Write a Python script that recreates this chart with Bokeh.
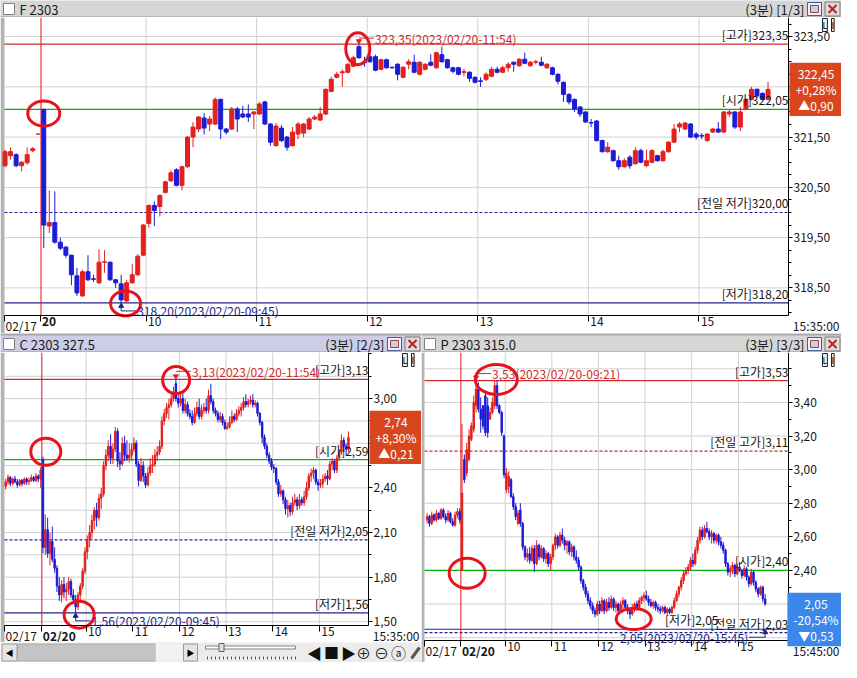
from bokeh.plotting import figure
from bokeh.models import Range1d, FixedTicker, ColumnDataSource, Label, PolyAnnotation
from bokeh.layouts import column, row
from bokeh.embed import file_html
from bokeh.resources import INLINE

FONT = "Noto Sans CJK KR"
UP, DOWN = "#e3201e", "#1c1cd6"
HI_RED, GREEN, NAVY = "#d22a2a", "#00b400", "#23238c"
GRID, MARK = "#d0d0d0", "#e8121c"
BOX_UP, BOX_DN = "#d9461e", "#3c88ea"

# ---- time axis (bar index of 3-minute bars on 02/20; negative = 02/17) ----
HOUR_POS = [18.5, 38.5, 58.5, 78.5, 98.5, 118.5]
HOUR_LABELS = ["10", "11", "12", "13", "14", "15"]

# ================= F 2303 =================
F_N_PREV = 7
F_OPEN = [320.93, 321.13, 321.15, 320.93, 320.99, 321.23, 321.56,
          322.05, 319.73, 319.80, 319.41, 319.31, 319.15, 318.74, 318.34, 318.82, 318.68,
          318.60, 319.01, 319.01, 318.66, 318.58, 318.24, 318.60, 318.76, 319.15, 319.78,
          320.14, 320.12, 320.40, 320.63, 320.85, 320.54, 320.91, 321.50, 321.66, 321.88,
          321.76, 321.76, 322.25, 321.66, 321.66, 322.06, 321.96, 321.96, 321.96, 321.96,
          322.20, 321.76, 321.33, 321.68, 321.50, 321.33, 321.56, 321.58, 321.66, 321.86,
          321.84, 321.96, 322.41, 322.69, 322.78, 322.79, 322.91, 323.30, 323.00, 323.10,
          323.10, 322.85, 323.04, 322.89, 322.95, 322.69, 322.95, 322.99, 322.75, 322.85,
          322.99, 322.88, 323.14, 323.04, 322.88, 322.88, 322.79, 322.79, 322.69, 322.62,
          322.65, 322.71, 322.85, 322.79, 322.88, 322.99, 322.92, 323.05, 322.92, 322.99,
          322.99, 322.88, 322.88, 322.75, 322.59, 322.35, 322.25, 322.10, 322.00, 321.79,
          321.82, 321.43, 321.21, 321.23, 321.03, 320.91, 321.10, 320.97, 321.23, 320.93,
          321.00, 321.13, 321.03, 321.21, 321.40, 321.70, 321.66, 321.76, 321.56, 321.53,
          321.43, 321.60, 321.66, 321.60, 321.96, 322.00, 321.70, 322.06, 322.25, 322.45,
          322.37, 322.25]
F_HIGH = [321.25, 321.30, 321.18, 321.02, 321.30, 321.30, 321.56,
          322.07, 320.44, 320.42, 319.50, 319.33, 319.16, 318.90, 318.86, 319.15, 318.76,
          319.27, 319.25, 319.02, 318.68, 318.76, 318.66, 318.98, 319.17, 319.77, 320.16,
          320.22, 320.36, 320.63, 320.84, 320.88, 320.93, 321.52, 321.80, 321.92, 321.98,
          321.92, 322.29, 322.27, 321.68, 322.10, 322.10, 322.12, 322.15, 322.02, 322.20,
          322.22, 321.78, 321.78, 321.74, 321.52, 321.70, 321.80, 321.78, 321.90, 321.94,
          322.10, 322.47, 322.70, 322.80, 322.85, 322.97, 323.12, 323.35, 323.10, 323.14,
          323.14, 323.06, 323.06, 322.90, 322.97, 322.91, 323.05, 323.14, 323.01, 322.97,
          323.15, 323.20, 323.30, 323.06, 322.90, 322.90, 322.86, 322.81, 322.71, 322.69,
          322.79, 322.90, 322.90, 322.92, 322.99, 323.00, 323.07, 323.18, 323.01, 323.04,
          323.10, 322.97, 322.90, 322.77, 322.61, 322.37, 322.27, 322.12, 322.02, 321.86,
          321.84, 321.45, 321.40, 321.25, 321.13, 321.08, 321.14, 321.30, 321.27, 321.25,
          321.26, 321.15, 321.25, 321.42, 321.76, 321.80, 321.80, 321.78, 321.60, 321.58,
          321.58, 321.68, 321.80, 322.02, 322.04, 322.02, 322.10, 322.27, 322.50, 322.47,
          322.39, 322.60]
F_LOW = [320.90, 321.05, 320.90, 320.82, 320.95, 321.20, 321.56,
         319.29, 319.59, 319.38, 319.25, 319.10, 318.55, 318.34, 318.32, 318.64, 318.62,
         318.58, 318.80, 318.64, 318.50, 318.20, 318.20, 318.58, 318.74, 319.13, 319.70,
         319.73, 319.92, 320.38, 320.61, 320.52, 320.44, 320.89, 321.30, 321.60, 321.55,
         321.62, 321.74, 321.46, 321.55, 321.64, 321.60, 321.88, 321.80, 321.66, 321.94,
         321.74, 321.33, 321.31, 321.40, 321.23, 321.31, 321.46, 321.50, 321.64, 321.84,
         321.82, 321.94, 322.39, 322.67, 322.50, 322.77, 322.89, 323.06, 322.90, 322.98,
         322.81, 322.83, 322.86, 322.86, 322.63, 322.67, 322.85, 322.77, 322.73, 322.83,
         322.91, 322.86, 322.98, 322.86, 322.77, 322.73, 322.71, 322.60, 322.57, 322.50,
         322.61, 322.69, 322.77, 322.77, 322.80, 322.80, 322.90, 322.95, 322.90, 322.95,
         322.91, 322.86, 322.73, 322.55, 322.20, 322.15, 322.00, 321.90, 321.78, 321.70,
         321.41, 321.19, 321.19, 321.01, 320.85, 320.89, 320.87, 320.95, 320.98, 320.91,
         320.98, 321.01, 321.01, 321.19, 321.38, 321.60, 321.64, 321.48, 321.45, 321.46,
         321.41, 321.58, 321.58, 321.58, 321.90, 321.66, 321.62, 322.04, 322.23, 322.30,
         322.23, 322.23]
F_CLOSE = [321.21, 321.21, 320.93, 321.00, 321.15, 321.27, 321.56,
           319.75, 319.80, 319.41, 319.29, 319.15, 318.76, 318.40, 318.82, 318.66, 318.67,
           319.01, 319.02, 318.66, 318.60, 318.26, 318.60, 318.76, 319.13, 319.75, 320.14,
           320.04, 320.34, 320.61, 320.79, 320.54, 320.91, 321.50, 321.70, 321.90, 321.68,
           321.86, 322.25, 321.66, 321.60, 322.06, 321.86, 321.90, 321.90, 322.00, 322.16,
           321.76, 321.40, 321.72, 321.43, 321.30, 321.60, 321.76, 321.76, 321.86, 321.90,
           321.96, 322.45, 322.65, 322.75, 322.80, 322.95, 323.08, 323.08, 322.98, 323.00,
           322.83, 323.04, 322.88, 322.88, 322.75, 322.89, 323.00, 322.79, 322.99, 322.95,
           322.93, 323.18, 323.00, 322.88, 322.81, 322.75, 322.80, 322.67, 322.59, 322.61,
           322.75, 322.85, 322.79, 322.88, 322.95, 322.95, 323.05, 322.97, 322.99, 323.00,
           322.93, 322.95, 322.75, 322.61, 322.35, 322.20, 322.06, 321.96, 321.80, 321.78,
           321.43, 321.21, 321.30, 321.03, 320.91, 321.03, 320.93, 321.23, 321.00, 321.03,
           321.23, 321.03, 321.21, 321.40, 321.66, 321.76, 321.78, 321.50, 321.50, 321.52,
           321.56, 321.66, 321.60, 322.00, 322.00, 321.70, 322.00, 322.25, 322.45, 322.32,
           322.25, 322.45]
F_YTICKS = [318.5, 319.5, 320.5, 321.5, 322.5, 323.5]
F_YLABELS = ["318,50", "319,50", "320,50", "321,50", "322,50", "323,50"]
F_YMINOR = [318.0, 318.25, 318.5, 318.75, 319.0, 319.25, 319.5, 319.75, 320.0, 320.25, 320.5,
            320.75, 321.0, 321.25, 321.5, 321.75, 322.0, 322.25, 322.5, 322.75, 323.0, 323.25,
            323.5, 323.75]
F_REF_PRICES = [323.35, 322.05, 320.00, 318.20]
F_REF_TEXTS = ["[고가]323,35", "[시가]322,05", "[전일 저가]320,00", "[저가]318,20"]
F_HIGH_MARK = (57, 323.35, "323,35(2023/02/20-11:54)")
F_LOW_MARK = (14, 318.20, "318,20(2023/02/20-09:45)")
F_LAST = (322.45, "322,45\n+0,28%\n▲0,90")
F_CIRCLE_K = [0.0, 56.8, 14.8]
F_CIRCLE_Y = [321.97, 323.26, 318.19]

# ================= C 2303 327.5 =================
C_N_PREV = 16
C_OPEN = [2.41, 2.44, 2.47, 2.43, 2.46, 2.44, 2.42, 2.45, 2.43, 2.46, 2.44, 2.45, 2.47, 2.45, 2.48, 2.46,
          2.59, 2.00, 2.12, 1.96, 2.04, 1.92, 1.86, 1.74, 1.68, 1.75,
          1.70, 1.72, 1.77, 1.68, 1.65, 1.60, 1.68, 1.74, 1.84, 1.97,
          2.05, 2.10, 2.18, 2.25, 2.20, 2.33, 2.36, 2.55, 2.62, 2.68,
          2.60, 2.66, 2.78, 2.58, 2.56, 2.70, 2.62, 2.60, 2.62, 2.66,
          2.70, 2.56, 2.45, 2.55, 2.48, 2.42, 2.50, 2.55, 2.56, 2.62,
          2.64, 2.68, 2.85, 2.90, 2.94, 2.96, 3.00, 3.10, 3.00, 2.97,
          3.00, 2.92, 2.96, 2.90, 2.88, 2.84, 2.90, 2.94, 2.88, 2.92,
          2.94, 2.92, 3.02, 2.98, 2.92, 2.90, 2.86, 2.88, 2.84, 2.80,
          2.81, 2.84, 2.88, 2.86, 2.90, 2.92, 2.94, 2.98, 2.96, 2.98,
          2.99, 2.96, 2.97, 2.90, 2.84, 2.74, 2.68, 2.62, 2.58, 2.54,
          2.53, 2.44, 2.36, 2.38, 2.32, 2.26, 2.28, 2.24, 2.30, 2.32,
          2.28, 2.32, 2.30, 2.34, 2.40, 2.48, 2.50, 2.52, 2.44, 2.42,
          2.43, 2.46, 2.48, 2.46, 2.56, 2.58, 2.52, 2.60, 2.64, 2.72,
          2.68, 2.66]
C_HIGH = [2.46, 2.49, 2.48, 2.47, 2.48, 2.46, 2.46, 2.46, 2.47, 2.47, 2.47, 2.49, 2.48, 2.50, 2.49, 2.54,
          2.61, 2.22, 2.20, 2.10, 2.14, 2.00, 1.88, 1.80, 1.78, 1.80,
          1.76, 1.80, 1.79, 1.72, 1.68, 1.70, 1.76, 1.86, 2.00, 2.08,
          2.15, 2.22, 2.27, 2.30, 2.36, 2.40, 2.58, 2.66, 2.72, 2.76,
          2.70, 2.81, 2.80, 2.64, 2.74, 2.75, 2.72, 2.70, 2.70, 2.74,
          2.72, 2.58, 2.60, 2.58, 2.50, 2.54, 2.60, 2.62, 2.66, 2.68,
          2.72, 2.88, 2.93, 2.97, 3.00, 3.04, 3.08, 3.13, 3.04, 3.05,
          3.04, 3.00, 2.98, 2.93, 2.92, 2.94, 2.98, 3.00, 2.96, 2.97,
          3.00, 3.06, 3.10, 3.00, 2.94, 2.92, 2.91, 2.90, 2.86, 2.84,
          2.88, 2.92, 2.90, 2.93, 2.95, 2.97, 3.01, 3.03, 3.00, 3.02,
          3.03, 2.99, 2.98, 2.91, 2.85, 2.76, 2.70, 2.64, 2.60, 2.56,
          2.54, 2.46, 2.42, 2.39, 2.34, 2.32, 2.30, 2.34, 2.36, 2.34,
          2.36, 2.34, 2.38, 2.44, 2.50, 2.53, 2.54, 2.53, 2.46, 2.46,
          2.49, 2.50, 2.52, 2.58, 2.60, 2.59, 2.62, 2.66, 2.76, 2.74,
          2.70, 2.78]
C_LOW = [2.39, 2.42, 2.41, 2.42, 2.43, 2.40, 2.41, 2.41, 2.42, 2.42, 2.42, 2.44, 2.44, 2.44, 2.44, 2.40,
         1.96, 1.95, 1.93, 1.88, 1.90, 1.83, 1.70, 1.64, 1.63, 1.66,
         1.64, 1.68, 1.66, 1.62, 1.56, 1.58, 1.64, 1.72, 1.82, 1.92,
         2.00, 2.06, 2.12, 2.14, 2.18, 2.26, 2.34, 2.52, 2.58, 2.56,
         2.56, 2.64, 2.54, 2.52, 2.55, 2.58, 2.58, 2.57, 2.58, 2.64,
         2.54, 2.41, 2.44, 2.44, 2.40, 2.41, 2.48, 2.50, 2.54, 2.58,
         2.62, 2.66, 2.82, 2.87, 2.86, 2.94, 2.98, 2.98, 2.94, 2.95,
         2.90, 2.90, 2.88, 2.86, 2.82, 2.83, 2.88, 2.86, 2.86, 2.90,
         2.90, 2.90, 2.96, 2.90, 2.88, 2.84, 2.84, 2.82, 2.79, 2.79,
         2.80, 2.83, 2.84, 2.85, 2.88, 2.88, 2.92, 2.94, 2.94, 2.96,
         2.94, 2.94, 2.88, 2.82, 2.70, 2.66, 2.60, 2.56, 2.52, 2.50,
         2.42, 2.34, 2.34, 2.29, 2.22, 2.20, 2.21, 2.22, 2.28, 2.25,
         2.26, 2.28, 2.28, 2.32, 2.38, 2.44, 2.46, 2.42, 2.38, 2.40,
         2.40, 2.44, 2.42, 2.45, 2.52, 2.50, 2.50, 2.58, 2.62, 2.64,
         2.62, 2.64]
C_CLOSE = [2.44, 2.47, 2.43, 2.46, 2.44, 2.42, 2.45, 2.43, 2.46, 2.44, 2.45, 2.47, 2.45, 2.48, 2.46, 2.52,
           2.00, 2.12, 1.96, 2.04, 1.92, 1.86, 1.74, 1.68, 1.75, 1.70,
           1.72, 1.77, 1.68, 1.65, 1.60, 1.68, 1.74, 1.84, 1.97, 2.05,
           2.10, 2.18, 2.25, 2.20, 2.33, 2.36, 2.55, 2.62, 2.68, 2.60,
           2.66, 2.78, 2.58, 2.56, 2.70, 2.62, 2.60, 2.62, 2.66, 2.70,
           2.56, 2.45, 2.55, 2.48, 2.42, 2.50, 2.55, 2.56, 2.62, 2.64,
           2.68, 2.85, 2.90, 2.94, 2.96, 3.00, 3.04, 3.00, 2.97, 3.00,
           2.92, 2.96, 2.90, 2.88, 2.84, 2.90, 2.94, 2.88, 2.92, 2.94,
           2.92, 3.02, 2.98, 2.92, 2.90, 2.86, 2.88, 2.84, 2.80, 2.81,
           2.84, 2.88, 2.86, 2.90, 2.92, 2.94, 2.98, 2.96, 2.98, 2.99,
           2.96, 2.97, 2.90, 2.84, 2.74, 2.68, 2.62, 2.58, 2.54, 2.53,
           2.44, 2.36, 2.38, 2.32, 2.26, 2.28, 2.24, 2.30, 2.32, 2.28,
           2.32, 2.30, 2.34, 2.40, 2.48, 2.50, 2.52, 2.44, 2.42, 2.43,
           2.46, 2.48, 2.46, 2.56, 2.58, 2.52, 2.60, 2.64, 2.72, 2.68,
           2.66, 2.74]
C_YTICKS = [1.5, 1.8, 2.1, 2.4, 2.7, 3.0]
C_YLABELS = ["1,50", "1,80", "2,10", "2,40", "2,70", "3,00"]
C_YMINOR = [1.5, 1.65, 1.8, 1.95, 2.1, 2.25, 2.4, 2.55, 2.7, 2.85, 3.0, 3.15, 3.3]
C_YGRID = [1.5, 1.65, 1.8, 1.95, 2.1, 2.25, 2.4, 2.55, 2.7, 2.85, 3.0, 3.15]
C_REF_PRICES = [3.13, 2.59, 2.05, 1.56]
C_REF_TEXTS = ["[고가]3,13", "[시가]2,59", "[전일 저가]2,05", "[저가]1,56"]
C_HIGH_MARK = (57, 3.13, "3,13(2023/02/20-11:54)")
C_LOW_MARK = (14, 1.56, "1,56(2023/02/20-09:45)")
C_LAST = (2.74, "2,74\n+8,30%\n▲0,21")
C_CIRCLE_K = [1.2, 57.1, 15.5]
C_CIRCLE_Y = [2.643, 3.125, 1.548]

# ================= P 2303 315.0 =================
P_N_PREV = 15
P_OPEN = [2.70, 2.72, 2.68, 2.73, 2.70, 2.74, 2.71, 2.76, 2.72, 2.70, 2.74, 2.69, 2.67, 2.73, 2.75,
          2.40, 3.06, 2.98, 3.06, 3.18, 3.24, 3.38, 3.48, 3.36, 3.38,
          3.44, 3.38, 3.30, 3.34, 3.38, 3.50, 3.38, 3.34, 3.20, 2.88,
          2.90, 2.94, 2.84, 2.78, 2.68, 2.76, 2.68, 2.54, 2.48, 2.50,
          2.46, 2.53, 2.44, 2.55, 2.48, 2.53, 2.47, 2.50, 2.44, 2.48,
          2.55, 2.60, 2.55, 2.61, 2.58, 2.55, 2.57, 2.51, 2.54, 2.48,
          2.46, 2.42, 2.34, 2.30, 2.26, 2.22, 2.19, 2.16, 2.14, 2.20,
          2.16, 2.22, 2.16, 2.21, 2.18, 2.23, 2.18, 2.20, 2.16, 2.20,
          2.22, 2.18, 2.16, 2.14, 2.18, 2.20, 2.18, 2.22, 2.24, 2.25,
          2.23, 2.21, 2.19, 2.21, 2.18, 2.17, 2.16, 2.18, 2.15, 2.17,
          2.15, 2.18, 2.22, 2.26, 2.30, 2.34, 2.38, 2.40, 2.42, 2.46,
          2.44, 2.52, 2.58, 2.64, 2.60, 2.65, 2.63, 2.60, 2.62, 2.58,
          2.61, 2.57, 2.55, 2.52, 2.44, 2.39, 2.41, 2.43, 2.38, 2.42,
          2.40, 2.37, 2.41, 2.36, 2.32, 2.39, 2.33, 2.29, 2.26, 2.30,
          2.23]
P_HIGH = [2.74, 2.73, 2.75, 2.74, 2.76, 2.75, 2.77, 2.77, 2.74, 2.76, 2.75, 2.71, 2.75, 2.77, 2.77,
          3.27, 3.09, 3.16, 3.24, 3.28, 3.44, 3.53, 3.52, 3.43, 3.38,
          3.47, 3.43, 3.37, 3.43, 3.53, 3.53, 3.39, 3.35, 3.21, 3.01,
          2.99, 2.95, 2.86, 2.80, 2.76, 2.80, 2.69, 2.55, 2.53, 2.54,
          2.55, 2.55, 2.58, 2.56, 2.55, 2.54, 2.52, 2.51, 2.50, 2.56,
          2.62, 2.61, 2.63, 2.65, 2.60, 2.58, 2.58, 2.56, 2.55, 2.52,
          2.48, 2.43, 2.35, 2.32, 2.28, 2.24, 2.21, 2.18, 2.22, 2.22,
          2.24, 2.23, 2.23, 2.24, 2.25, 2.24, 2.22, 2.21, 2.22, 2.24,
          2.23, 2.20, 2.17, 2.20, 2.21, 2.22, 2.24, 2.25, 2.27, 2.28,
          2.25, 2.23, 2.22, 2.22, 2.20, 2.19, 2.19, 2.19, 2.18, 2.18,
          2.19, 2.24, 2.28, 2.31, 2.36, 2.40, 2.42, 2.44, 2.48, 2.50,
          2.54, 2.60, 2.66, 2.66, 2.67, 2.69, 2.65, 2.64, 2.63, 2.62,
          2.62, 2.60, 2.57, 2.53, 2.45, 2.43, 2.45, 2.44, 2.44, 2.45,
          2.41, 2.43, 2.42, 2.37, 2.41, 2.40, 2.34, 2.30, 2.31, 2.31,
          2.26]
P_LOW = [2.68, 2.66, 2.67, 2.69, 2.69, 2.70, 2.70, 2.71, 2.68, 2.69, 2.68, 2.66, 2.66, 2.71, 2.68,
         2.40, 2.92, 2.96, 3.05, 3.17, 3.22, 3.34, 3.34, 3.22, 3.24,
         3.20, 3.19, 3.30, 3.33, 3.36, 3.36, 3.33, 3.20, 2.95, 2.86,
         2.86, 2.83, 2.76, 2.70, 2.67, 2.66, 2.52, 2.46, 2.45, 2.44,
         2.45, 2.39, 2.43, 2.46, 2.47, 2.45, 2.44, 2.42, 2.40, 2.46,
         2.52, 2.53, 2.54, 2.56, 2.52, 2.50, 2.49, 2.48, 2.46, 2.44,
         2.40, 2.32, 2.28, 2.24, 2.20, 2.17, 2.14, 2.12, 2.13, 2.14,
         2.15, 2.14, 2.15, 2.16, 2.17, 2.16, 2.15, 2.14, 2.15, 2.17,
         2.16, 2.14, 2.11, 2.13, 2.15, 2.16, 2.17, 2.20, 2.21, 2.22,
         2.19, 2.18, 2.17, 2.16, 2.15, 2.14, 2.15, 2.14, 2.13, 2.14,
         2.14, 2.17, 2.21, 2.24, 2.28, 2.32, 2.37, 2.38, 2.40, 2.42,
         2.43, 2.50, 2.56, 2.58, 2.59, 2.62, 2.58, 2.56, 2.56, 2.56,
         2.55, 2.53, 2.50, 2.42, 2.37, 2.36, 2.38, 2.36, 2.37, 2.39,
         2.35, 2.36, 2.34, 2.30, 2.31, 2.31, 2.27, 2.24, 2.25, 2.21,
         2.19]
P_CLOSE = [2.72, 2.68, 2.73, 2.70, 2.74, 2.71, 2.76, 2.72, 2.70, 2.74, 2.69, 2.67, 2.73, 2.75, 2.70,
           2.86, 2.94, 3.12, 3.20, 3.26, 3.40, 3.48, 3.36, 3.30, 3.26,
           3.22, 3.22, 3.34, 3.40, 3.50, 3.38, 3.34, 3.22, 2.97, 2.98,
           2.96, 2.84, 2.78, 2.72, 2.74, 2.68, 2.54, 2.48, 2.50, 2.46,
           2.53, 2.44, 2.55, 2.48, 2.53, 2.47, 2.50, 2.44, 2.48, 2.55,
           2.60, 2.55, 2.61, 2.58, 2.55, 2.57, 2.51, 2.54, 2.48, 2.46,
           2.42, 2.34, 2.30, 2.26, 2.22, 2.19, 2.16, 2.14, 2.20, 2.16,
           2.22, 2.16, 2.21, 2.18, 2.23, 2.18, 2.20, 2.16, 2.20, 2.22,
           2.18, 2.16, 2.14, 2.18, 2.20, 2.18, 2.22, 2.24, 2.25, 2.23,
           2.21, 2.19, 2.21, 2.18, 2.17, 2.16, 2.18, 2.15, 2.17, 2.15,
           2.18, 2.22, 2.26, 2.30, 2.34, 2.38, 2.40, 2.42, 2.46, 2.44,
           2.52, 2.58, 2.64, 2.60, 2.65, 2.63, 2.60, 2.62, 2.58, 2.61,
           2.57, 2.55, 2.52, 2.44, 2.39, 2.41, 2.43, 2.38, 2.42, 2.40,
           2.37, 2.41, 2.36, 2.32, 2.39, 2.33, 2.29, 2.26, 2.30, 2.23,
           2.20]
P_YTICKS = [2.2, 2.4, 2.6, 2.8, 3.0, 3.2, 3.4]
P_YLABELS = ["2,20", "2,40", "2,60", "2,80", "3,00", "3,20", "3,40"]
P_YMINOR = [2.0, 2.1, 2.2, 2.3, 2.4, 2.5, 2.6, 2.7, 2.8, 2.9, 3.0, 3.1, 3.2, 3.3, 3.4, 3.5, 3.6]
P_YGRID = [2.0, 2.2, 2.4, 2.6, 2.8, 3.0, 3.2, 3.4, 3.6]
P_REF_PRICES = [3.53, 3.11, 2.40, 2.05, 2.03]
P_REF_TEXTS = ["[고가]3,53", "[전일 고가]3,11", "[시가]2,40", "[저가]2,05", "[전일 저가]2,03"]
P_HIGH_MARK = (6, 3.53, "3,53(2023/02/20-09:21)")
P_LOW_MARK = (130, 2.05, "2,05(2023/02/20-15:45)")
P_LAST = (2.05, "2,05\n-20,54%\n▼0,53")
P_CIRCLE_K = [2.2, 14.7, 73.6]
P_CIRCLE_Y = [2.383, 3.537, 2.111]


def lab(p, x, y, text, size="12px", color="#151515", align="left", base="middle", bold=False, **kw):
    p.add_layout(Label(x=x, y=y, text=text, text_font=FONT, text_font_size=size,
                       text_color=color, text_align=align, text_baseline=base,
                       text_font_style="bold" if bold else "normal", **kw))


def make_panel(cfg):
    W, H = cfg["size"]
    bl, br, bb = cfg["border"]
    x0, x1 = cfg["xr"]          # plot area (inside the axes)
    y0, y1 = cfg["yr"]
    ux = (x1 - x0) / (W - bl - br)
    uy = (y1 - y0) / (H - bb)
    X0, X1, Y0 = x0 - bl * ux, x1 + br * ux, y0 - bb * uy   # whole canvas
    p = figure(width=W, height=H, x_range=Range1d(X0, X1), y_range=Range1d(Y0, y1),
               output_backend="svg", toolbar_location=None, y_axis_location="right",
               min_border=0, background_fill_color="white", border_fill_color="white",
               outline_line_color=None)
    p.xgrid.visible = False
    p.ygrid.visible = False

    # left window edge
    p.quad(left=[X0], right=[x0], bottom=[Y0], top=[y1], fill_color="#b4b4b4", line_color=None,
           level="underlay")
    # grid lines limited to the plot area
    n = len(HOUR_POS)
    p.segment(HOUR_POS, [y0] * n, HOUR_POS, [y1] * n, line_color=GRID, level="underlay")
    g = cfg["ygrid"]
    p.segment([x0] * len(g), g, [x1] * len(g), g, line_color=GRID, level="underlay")

    # axes drawn at the plot-area edges
    ya = p.yaxis[0]
    ya.fixed_location = x1
    ya.bounds = (y0, y1)
    ya.ticker = FixedTicker(ticks=cfg["yticks"], minor_ticks=cfg["yminor"])
    ya.major_label_overrides = dict(zip(cfg["yticks"], cfg["ylabels"]))
    ya.major_label_text_font = FONT
    ya.major_label_text_font_size = "12px"
    ya.major_label_text_color = "#151515"
    ya.major_tick_out, ya.major_tick_in = 4, 0
    ya.minor_tick_out, ya.minor_tick_in = 3, 0
    ya.major_label_standoff = 1
    ya.axis_line_color = "black"

    xa = p.xaxis[0]
    xa.fixed_location = y0
    xa.bounds = (x0, x1)
    xa.ticker = FixedTicker(ticks=[x0, -0.5] + HOUR_POS)
    xa.major_label_text_font_size = "1px"
    xa.major_label_text_color = None
    xa.major_tick_out, xa.major_tick_in = 6, 0
    xa.major_label_standoff = 0
    xa.axis_line_color = "black"

    # reference lines + labels
    for price, text, color, dash, shift in zip(cfg["ref_prices"], cfg["ref_texts"],
                                               cfg["ref_colors"], cfg["ref_dash"], cfg["ref_shift"]):
        p.segment([x0], [price], [x1], [price], line_color=color, line_dash=dash,
                  line_width=1.2, level="underlay")
        lab(p, x1 - shift * ux, price + 1 * uy, text, align="right", base="bottom")
    p.segment([-0.5], [y0], [-0.5], [y1], line_color=MARK, line_width=1, level="underlay")

    # bars
    O, Hh, L, C = cfg["ohlc"]
    n0 = cfg["n_prev"]
    k = [i - n0 for i in range(len(O))]
    src = ColumnDataSource(dict(
        k=k, h=Hh, l=L,
        top=[max(a, b) for a, b in zip(O, C)],
        bot=[min(a, b) for a, b in zip(O, C)],
        col=[UP if c >= o else DOWN for o, c in zip(O, C)]))
    p.segment("k", "h", "k", "l", source=src, line_color="col", line_width=1)
    p.vbar(x="k", width=cfg["bw"], top="top", bottom="bot", source=src,
           fill_color="col", line_color="col", line_width=1)

    # high marker
    hk, hv, ht = cfg["hi"]
    off = cfg["hi_off"]
    p.scatter([hk], [hv + 3 * uy], marker="inverted_triangle", size=5, color=HI_RED)
    p.segment([hk], [hv + off * uy], [hk + 15 * ux], [hv + off * uy], line_color=HI_RED)
    lab(p, hk + 16 * ux, hv + off * uy, ht, color=HI_RED)

    # low marker
    lk, lv, lt = cfg["lo"]
    p.scatter([lk], [lv - 3 * uy], marker="triangle", size=5, color=NAVY)
    p.segment([lk], [lv - 3 * uy], [lk], [lv - 8 * uy], line_color=NAVY)
    if cfg["lo_left"]:
        p.segment([lk], [lv - 8 * uy], [lk - 16 * ux], [lv - 8 * uy], line_color=NAVY)
        lab(p, lk - 17 * ux, lv - 8 * uy, lt, color=NAVY, align="right")
    else:
        p.segment([lk], [lv - 8 * uy], [lk + 15 * ux], [lv - 8 * uy], line_color=NAVY)
        lab(p, lk + 16 * ux, lv - 8 * uy, lt, color=NAVY)

    # hand drawn circles
    p.ellipse(x=cfg["circ_k"], y=cfg["circ_y"], width=cfg["circ_w"], height=cfg["circ_h"],
              width_units="screen", height_units="screen", fill_color=None,
              line_color=MARK, line_width=3)

    # x-axis texts
    ly = y0 - 1 * uy
    lab(p, x0 + 1 * ux, ly, "02/17", base="top")
    lab(p, -0.5 + 1 * ux, ly, cfg["day"], base="top", bold=True)
    for pos, t in zip(HOUR_POS, HOUR_LABELS):
        lab(p, pos + 2 * ux, ly, t, base="top")
    lab(p, X1 - 2 * ux, ly, cfg["now"], align="right", base="top")

    # last price box (kept above the time axis like the terminal does)
    bv, bt = cfg["last"]
    by = max(bv, y0 + 21 * uy)
    bcol = cfg["box_col"]
    p.add_layout(PolyAnnotation(xs=[x1 + 0.5 * ux, x1 + 7 * ux, x1 + 7 * ux],
                                ys=[by, by + 6 * uy, by - 6 * uy],
                                fill_color=bcol, fill_alpha=1.0, line_color=bcol))
    lab(p, x1 + (br / 2 + 1) * ux, by, bt, color="white", align="center",
        background_fill_color=bcol, text_line_height=0.95, padding=(6, 2))

    # small L I buttons
    for j, ch in enumerate(["L", "I"]):
        lab(p, x1 + (br - 19 + 9 * j) * ux, y1 - 1 * uy, ch, size="9px", color="#000",
            base="top", background_fill_color="#f0f0f0", border_line_color="#222222")
    return p


def title_bar(W, H, left_text, right_text, bg, gap=0):
    t = figure(width=W, height=H, x_range=Range1d(0, W), y_range=Range1d(H, 0),
               output_backend="svg", toolbar_location=None, x_axis_type=None, y_axis_type=None,
               min_border=0, background_fill_color=bg, border_fill_color=bg,
               outline_line_color=None)
    cy = H - 8.5
    if gap:
        t.rect([W / 2], [gap / 2], [W], [gap], fill_color="#a8a8a8", line_color=None)
    t.segment([0], [H - 0.5], [W], [H - 0.5], line_color="#9a9a9a")
    t.rect([8.5], [cy], [11], [11], fill_color="white", line_color="#808080")
    lab(t, 19, cy, left_text, size="13px", color="#1a1a1a")
    lab(t, W - 37, cy, right_text, size="13px", color="#1a1a1a", align="right")
    # window buttons (restore / close)
    t.rect([W - 27], [cy], [14], [13], fill_color="#eef0fa", line_color="#4a5a9a")
    t.rect([W - 27], [cy], [8], [7], fill_color="#c8d0ea", line_color="#a04040")
    t.rect([W - 9], [cy], [15], [14], fill_color="#dcdcdc", line_color="#7a7a7a")
    t.segment([W - 13, W - 13], [cy - 4, cy + 4], [W - 5, W - 5], [cy + 4, cy - 4],
              line_color="#c02020", line_width=2)
    return t


def tool_strip(W, H):
    t = figure(width=W, height=H, x_range=Range1d(0, W), y_range=Range1d(H, 0),
               output_backend="svg", toolbar_location=None, x_axis_type=None, y_axis_type=None,
               min_border=0, background_fill_color="#ececec", border_fill_color="#ececec",
               outline_line_color=None)
    cy = H / 2
    t.rect([9], [cy], [15], [H - 3], fill_color="#e4e4e4", line_color="#9a9a9a")
    lab(t, 9, cy, "◀", size="8px", color="#000", align="center")
    t.rect([86], [cy], [138], [H - 3], fill_color="#c4c4c4", line_color="#a8a8a8")
    t.rect([169], [cy], [28], [H - 3], fill_color="#f2f2f2", line_color=None)
    t.rect([190], [cy], [14], [H - 3], fill_color="#e4e4e4", line_color="#9a9a9a")
    lab(t, 190, cy, "▶", size="8px", color="#000", align="center")
    t.rect([250], [5], [90], [3], fill_color="white", line_color="#808080")
    t.rect([221], [5], [5], [8], fill_color="#e0e0e0", line_color="#606060")
    tx = [207 + 4 * i for i in range(23)]
    t.segment(tx, [14] * 23, tx, [17] * 23, line_color="#555555")
    for x, s in [(314, "◀"), (331, "■"), (348, "▶")]:
        lab(t, x, cy, s, size="15px", color="#111", align="center")
    for x, s in [(363, "⊕"), (381, "⊖"), (398, "ⓐ")]:
        lab(t, x, cy, s, size="15px", color="#222", align="center")
    t.segment([411], [16], [419], [5], line_color="#555555", line_width=3)
    return t


REF_COL_F = [HI_RED, GREEN, NAVY, NAVY]
top_cfg = dict(size=(841, 316), border=(4, 53, 18), xr=(-7.1, 134.7), yr=(317.95, 323.88),
               ygrid=F_YTICKS, yticks=F_YTICKS, ylabels=F_YLABELS, yminor=F_YMINOR,
               ref_prices=F_REF_PRICES, ref_texts=F_REF_TEXTS, ref_colors=REF_COL_F,
               ref_dash=["solid", "solid", "3 2", "solid"], ref_shift=[0, 0, 0, 0],
               ohlc=(F_OPEN, F_HIGH, F_LOW, F_CLOSE), n_prev=F_N_PREV, bw=0.72,
               hi=F_HIGH_MARK, hi_off=6, lo=F_LOW_MARK, lo_left=False,
               circ_k=F_CIRCLE_K, circ_y=F_CIRCLE_Y, circ_w=[32, 24, 30], circ_h=[25, 32, 25],
               day="20", now="15:35:00", last=F_LAST, box_col=BOX_UP)
c_cfg = dict(size=(421, 290), border=(4, 53, 17), xr=(-16.5, 139.6), yr=(1.475, 3.31),
             ygrid=C_YGRID, yticks=C_YTICKS, ylabels=C_YLABELS, yminor=C_YMINOR,
             ref_prices=C_REF_PRICES, ref_texts=C_REF_TEXTS, ref_colors=REF_COL_F,
             ref_dash=["solid", "solid", "3 2", "solid"], ref_shift=[0, 0, 0, 0],
             ohlc=(C_OPEN, C_HIGH, C_LOW, C_CLOSE), n_prev=C_N_PREV, bw=0.6,
             hi=C_HIGH_MARK, hi_off=8, lo=C_LOW_MARK, lo_left=False,
             circ_k=C_CIRCLE_K, circ_y=C_CIRCLE_Y, circ_w=[30, 27, 30], circ_h=[27, 27, 27],
             day="02/20", now="15:35:00", last=C_LAST, box_col=BOX_UP)
p_cfg = dict(size=(420, 310), border=(3, 53, 22), xr=(-16.1, 140.0), yr=(1.983, 3.697),
             ygrid=P_YGRID, yticks=P_YTICKS, ylabels=P_YLABELS, yminor=P_YMINOR,
             ref_prices=P_REF_PRICES, ref_texts=P_REF_TEXTS,
             ref_colors=[HI_RED, HI_RED, GREEN, NAVY, NAVY],
             ref_dash=["solid", "3 2", "solid", "solid", "3 2"], ref_shift=[0, 0, 0, 70, 0],
             ohlc=(P_OPEN, P_HIGH, P_LOW, P_CLOSE), n_prev=P_N_PREV, bw=0.6,
             hi=P_HIGH_MARK, hi_off=7, lo=P_LOW_MARK, lo_left=True,
             circ_k=P_CIRCLE_K, circ_y=P_CIRCLE_Y, circ_w=[36, 42, 35], circ_h=[30, 30, 21],
             day="02/20", now="15:45:00", last=P_LAST, box_col=BOX_DN)

t_top = title_bar(841, 17, "F 2303", "(3분) [1/3]", "#d6d6d6")
f_top = make_panel(top_cfg)
t_c = title_bar(421, 19, "C 2303 327.5", "(3분) [2/3]", "#cdcde6", gap=2)
f_c = make_panel(c_cfg)
strip = tool_strip(421, 20)
t_p = title_bar(420, 19, "P 2303 315.0", "(3분) [3/3]", "#d6d6d6", gap=2)
f_p = make_panel(p_cfg)

layout = column(t_top, f_top,
                row(column(t_c, f_c, strip, spacing=0), column(t_p, f_p, spacing=0), spacing=0),
                spacing=0)

open("out.html", "w", encoding="utf-8").write(file_html(layout, INLINE, "HTS chart"))
